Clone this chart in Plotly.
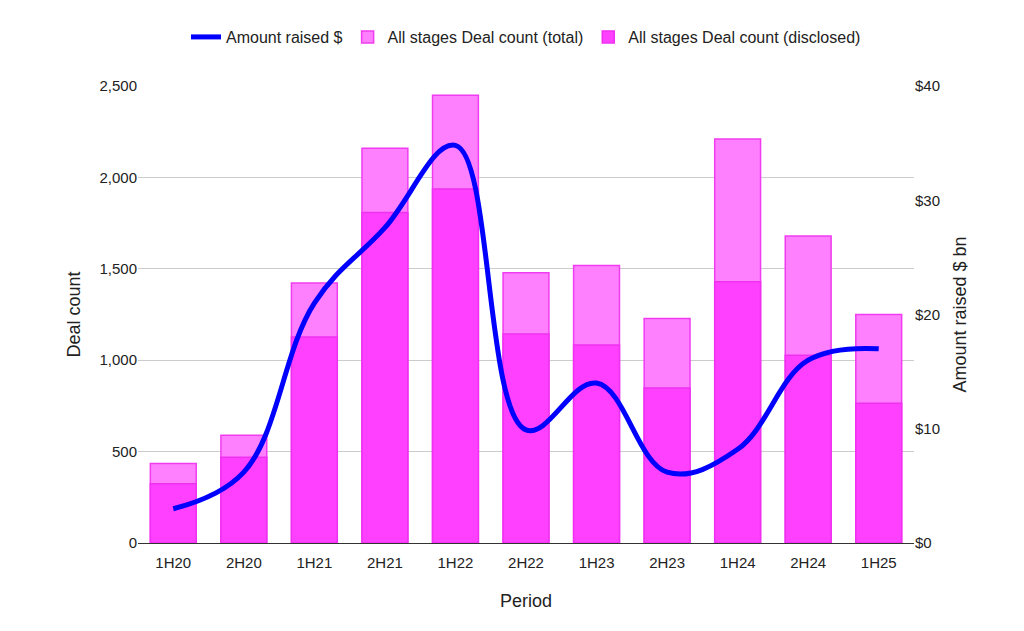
import plotly.graph_objects as go

periods = ['1H20', '2H20', '1H21', '2H21', '1H22', '2H22', '1H23', '2H23', '1H24', '2H24', '1H25']
deals_total = [435, 590, 1423, 2160, 2450, 1479, 1518, 1228, 2210, 1680, 1250]
deals_disclosed = [324, 469, 1127, 1808, 1936, 1144, 1083, 848, 1429, 1027, 765]
amount_bn = [3.0, 6.2, 21.0, 27.6, 34.8, 9.9, 14.0, 6.2, 8.2, 16.0, 17.0]

fig = go.Figure()
# line sits on y2 (overlaid axis) so it draws above the bars
fig.add_trace(go.Scatter(
    x=periods, y=amount_bn, name='Amount raised $', yaxis='y2',
    mode='lines', line=dict(color='#0000ff', width=5, shape='spline', smoothing=1.1),
))
fig.add_trace(go.Bar(
    x=periods, y=deals_total, name='All stages Deal count (total)',
    marker=dict(color='#ff80ff', line=dict(color='#f03cf0', width=1.5)), width=0.65,
))
fig.add_trace(go.Bar(
    x=periods, y=deals_disclosed, name='All stages Deal count (disclosed)',
    marker=dict(color='#ff40ff', line=dict(color='#f030f0', width=1.5)), width=0.65,
))

fig.update_layout(
    width=1024, height=631, barmode='overlay',
    paper_bgcolor='white', plot_bgcolor='white',
    font=dict(family='Liberation Sans, Arial', size=15, color='#222'),
    margin=dict(l=130, r=118, t=68, b=96),
    legend=dict(orientation='h', x=0.5, xanchor='center', y=1.07, yanchor='bottom',
                font=dict(size=16), traceorder='normal'),
    xaxis=dict(title=dict(text='Period', standoff=24), showgrid=False, linecolor='#333',
               ticks='outside', ticklen=6, tickcolor='white'),
    yaxis=dict(title=dict(text='Deal count', standoff=14), range=[0, 2500], dtick=500,
               tickformat=',', gridcolor='#cccccc', zeroline=False),
    yaxis2=dict(title=dict(text='Amount raised $ bn', standoff=14), overlaying='y', side='right',
                range=[0, 40], dtick=10, tickprefix='$', showgrid=False, zeroline=False),
)
fig.write_html('out.html')
